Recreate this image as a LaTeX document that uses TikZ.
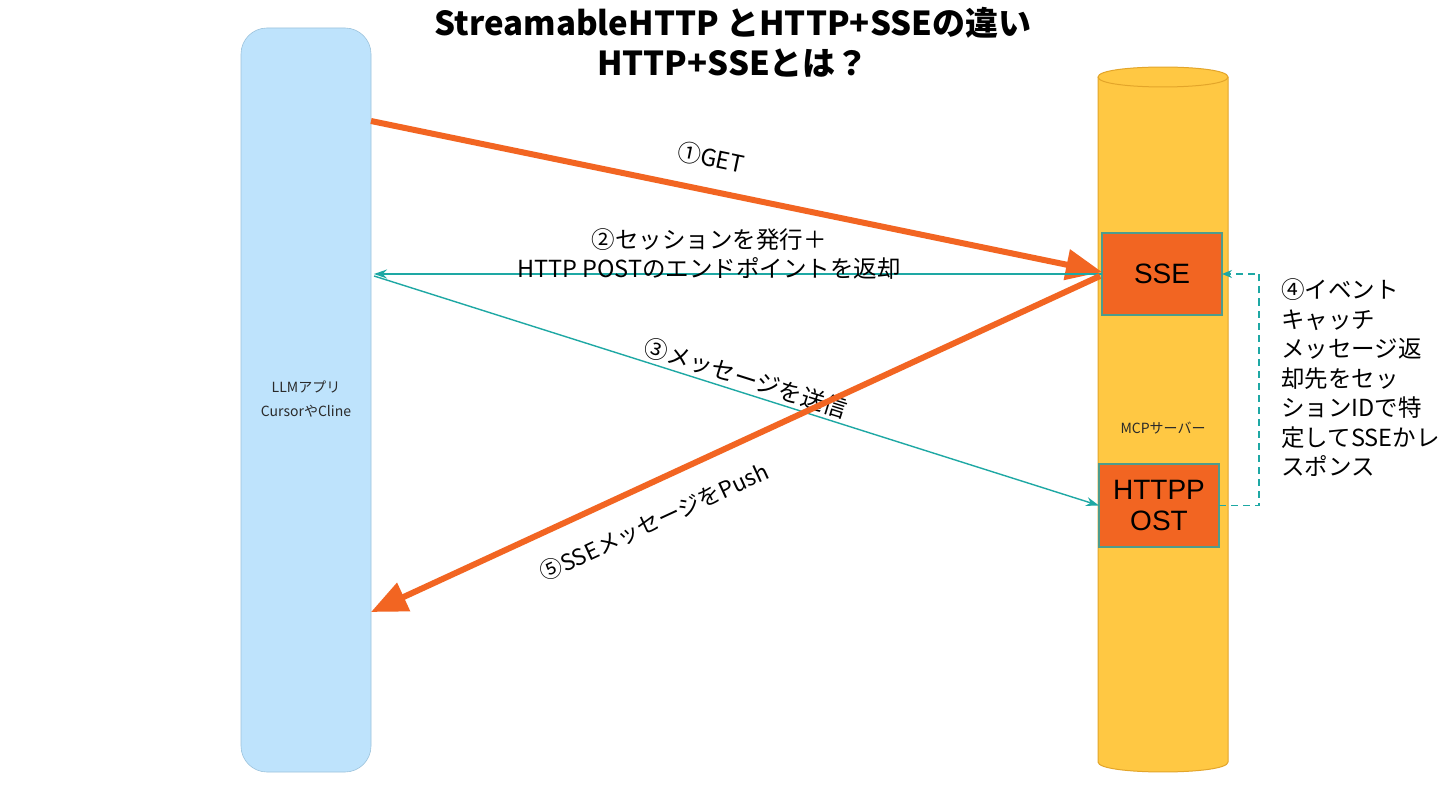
\documentclass[tikz,border=0pt]{standalone}
\usepackage{fontspec}
\setmainfont{Liberation Sans}
\newfontfamily\jp{Noto Sans CJK JP}
\usetikzlibrary{arrows.meta,calc}
\definecolor{orng}{HTML}{F26522}
\definecolor{teal2}{HTML}{1EA8A4}
\definecolor{boxline}{HTML}{4E9C8C}
\definecolor{lblue}{HTML}{BEE3FC}
\definecolor{lblueline}{HTML}{9CC3DC}
\definecolor{cylfill}{HTML}{FFC843}
\definecolor{cylline}{HTML}{E3A52A}
\definecolor{dgray}{HTML}{2A2A2A}
\tikzset{
  bigarrow/.style={draw=orng, line width=6pt, -{Triangle[length=36pt,width=30pt]}},
  thinarrow/.style={draw=teal2, line width=1.4pt, -{Stealth[length=13pt,width=9pt]}},
  dasharrow/.style={draw=teal2, line width=1.8pt, dash pattern=on 7pt off 5pt, -{Stealth[length=10pt,width=8pt]}},
  innerbox/.style={draw=boxline, line width=2pt, fill=orng, minimum width=120pt, inner sep=0pt, outer sep=0pt, align=center, font=\fontsize{28}{31}\selectfont},
  lbl/.style={font=\jp\fontsize{23.5}{29.5}\selectfont, inner sep=0pt}
}
\begin{document}
\begin{tikzpicture}[x=1pt,y=-1pt]
\path[use as bounding box, fill=white] (0,0) rectangle (1440,810);
% title
\node[font=\jp\bfseries\fontsize{33}{40}\selectfont, align=center] (title) at (733,42) {StreamableHTTP とHTTP+SSEの違い\\HTTP+SSEとは？};
% LLM app
\node[draw=lblueline, line width=0.6pt, fill=lblue, rounded corners=26pt, minimum width=130pt, minimum height=744pt, inner sep=0pt, outer sep=0pt] (llm) at (306,400) {};
\node[font=\jp\fontsize{14}{24}\selectfont, text=dgray, align=center] (llmlbl) at (306,399) {LLMアプリ\\CursorやCline};
% MCP server cylinder
\path[fill=cylfill, draw=cylline, line width=1pt] (1098,77) -- (1098,762) .. controls (1098,775.3) and (1228,775.3) .. (1228,762) -- (1228,77) .. controls (1228,63.7) and (1098,63.7) .. (1098,77) -- cycle;
\draw[cylline, line width=1pt] (1098,77) .. controls (1098,90.3) and (1228,90.3) .. (1228,77);
\coordinate (server) at (1163,420);
\node[font=\jp\fontsize{14}{18}\selectfont, text=dgray] (srvlbl) at (1163,428) {MCPサーバー};
% inner boxes
\node[innerbox, minimum height=82pt] (sse) at (1162,274) {SSE};
\node[innerbox, minimum height=83pt] (post) at (1159,505.5) {HTTPP\\OST};
% arrows
\draw[bigarrow] (llm.east |- 0,121) -- (sse.west |- 0,272);
\node[lbl, rotate=-11.7] (l1) at (711,158) {①GET};
\draw[thinarrow] (sse.west) -- ($(llm.east |- 0,274)+(3,0)$);
\node[lbl, align=center] (l2) at (709,254) {②セッションを発行＋\\HTTP POSTのエンドポイントを返却};
\draw[thinarrow] ($(llm.east |- 0,276)+(3,0)$) -- (post.west);
\node[lbl, rotate=-17.5] (l3) at (746,378) {③メッセージを送信};
\draw[bigarrow] ($(sse.west |- 0,276)+(-2,0)$) -- (llm.east |- 0,612);
\node[lbl, font=\jp\fontsize{22.5}{29.5}\selectfont, rotate=24.8] (l5) at (654,522) {⑤SSEメッセージをPush};
\coordinate (dcorner) at (1259,505.5);
\draw[dasharrow] (post.east) -- (dcorner) -- (dcorner |- sse.east) -- (sse.east);
\node[lbl, align=left, anchor=west] (l4) at (1281,378) {④イベント\\キャッチ\\メッセージ返\\却先をセッ\\ションIDで特\\定してSSEかレ\\スポンス};
\end{tikzpicture}
\end{document}
